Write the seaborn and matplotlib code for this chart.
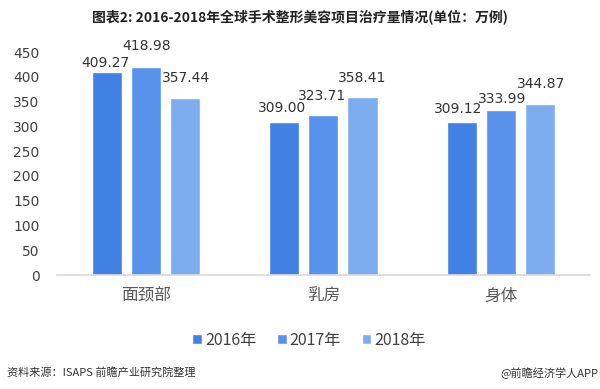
import matplotlib
matplotlib.use("Agg")
import matplotlib.pyplot as plt
import seaborn as sns
import pandas as pd

categories = ["面颈部", "乳房", "身体"]
years = ["2016年", "2017年", "2018年"]
v2016 = [409.27, 309.00, 309.12]
v2017 = [418.98, 323.71, 333.99]
v2018 = [357.44, 358.41, 344.87]
yticks = [0, 50, 100, 150, 200, 250, 300, 350, 400, 450]
colors = ["#4281E4", "#5892EA", "#7DADEE"]

# label offsets (pixels) from bar top centre, per year then category
label_dy = [[9, 14, 13], [21, 19, 11], [20, 19, 20]]
label_dx = [[-1.5, -2, -4], [0.5, -1, 1.5], [1, -0.5, 0.5]]

sns.set_theme(style="white")
plt.rcParams['font.family'] = ['Noto Sans CJK SC', 'DejaVu Sans']

rows = []
for y, vals in zip(years, [v2016, v2017, v2018]):
    for c, v in zip(categories, vals):
        rows.append({"cat": c, "year": y, "value": v})
df = pd.DataFrame(rows)

fig = plt.figure(figsize=(6, 3.89), dpi=100)
ax = fig.add_axes([0.095, 0.293, 0.888, 0.573])
sns.barplot(data=df, x="cat", y="value", hue="year", palette=colors,
            width=0.66, gap=0.23, ax=ax, errorbar=None, saturation=1)

px = 0.72
for i, cont in enumerate(ax.containers):
    for j, bar in enumerate(cont):
        h = bar.get_height()
        xc = bar.get_x() + bar.get_width() / 2
        ax.annotate(f"{h:.2f}", (xc, h),
                    xytext=(label_dx[i][j] * px, label_dy[i][j] * px),
                    textcoords="offset points", ha="center", va="center",
                    fontsize=10, color="#333333", family=['DejaVu Sans'])

ax.set_ylim(0, 450)
ax.set_xlim(-0.5, 2.5)
ax.set_yticks(yticks)
ax.set_yticklabels([str(t) for t in yticks], fontsize=10, color="#404040",
                   family=['DejaVu Sans'])
ax.tick_params(axis='x', labelsize=12, colors="#595959", length=0, pad=9)
ax.tick_params(axis='y', length=0, pad=12.5)
ax.set_xlabel("")
ax.set_ylabel("")
for s in ["top", "right", "left"]:
    ax.spines[s].set_visible(False)
ax.spines["bottom"].set_color("#D9D9D9")
ax.grid(False)

leg = ax.legend(loc="center", bbox_to_anchor=((309 / 600 - 0.095) / 0.888, (1 - 340 / 389 - 0.293) / 0.573),
                ncol=3, frameon=False, fontsize=11.5, handlelength=0.6, handleheight=0.6,
                handletextpad=0.2, columnspacing=1.3)
for t in leg.get_texts():
    t.set_color("#404040")

fig.text(0.5, 1 - 17 / 389, "图表2: 2016-2018年全球手术整形美容项目治疗量情况(单位：万例)",
         ha="center", va="center", fontsize=10, fontweight="bold", color="#222222")
fig.text(7 / 600, 1 - 372 / 389, "资料来源：ISAPS 前瞻产业研究院整理",
         ha="left", va="center", fontsize=8, color="#333333")
fig.text(1 - 2 / 600, 1 - 373 / 389, "@前瞻经济学人APP",
         ha="right", va="center", fontsize=8, color="#333333")

fig.savefig("out.png", dpi=100)
